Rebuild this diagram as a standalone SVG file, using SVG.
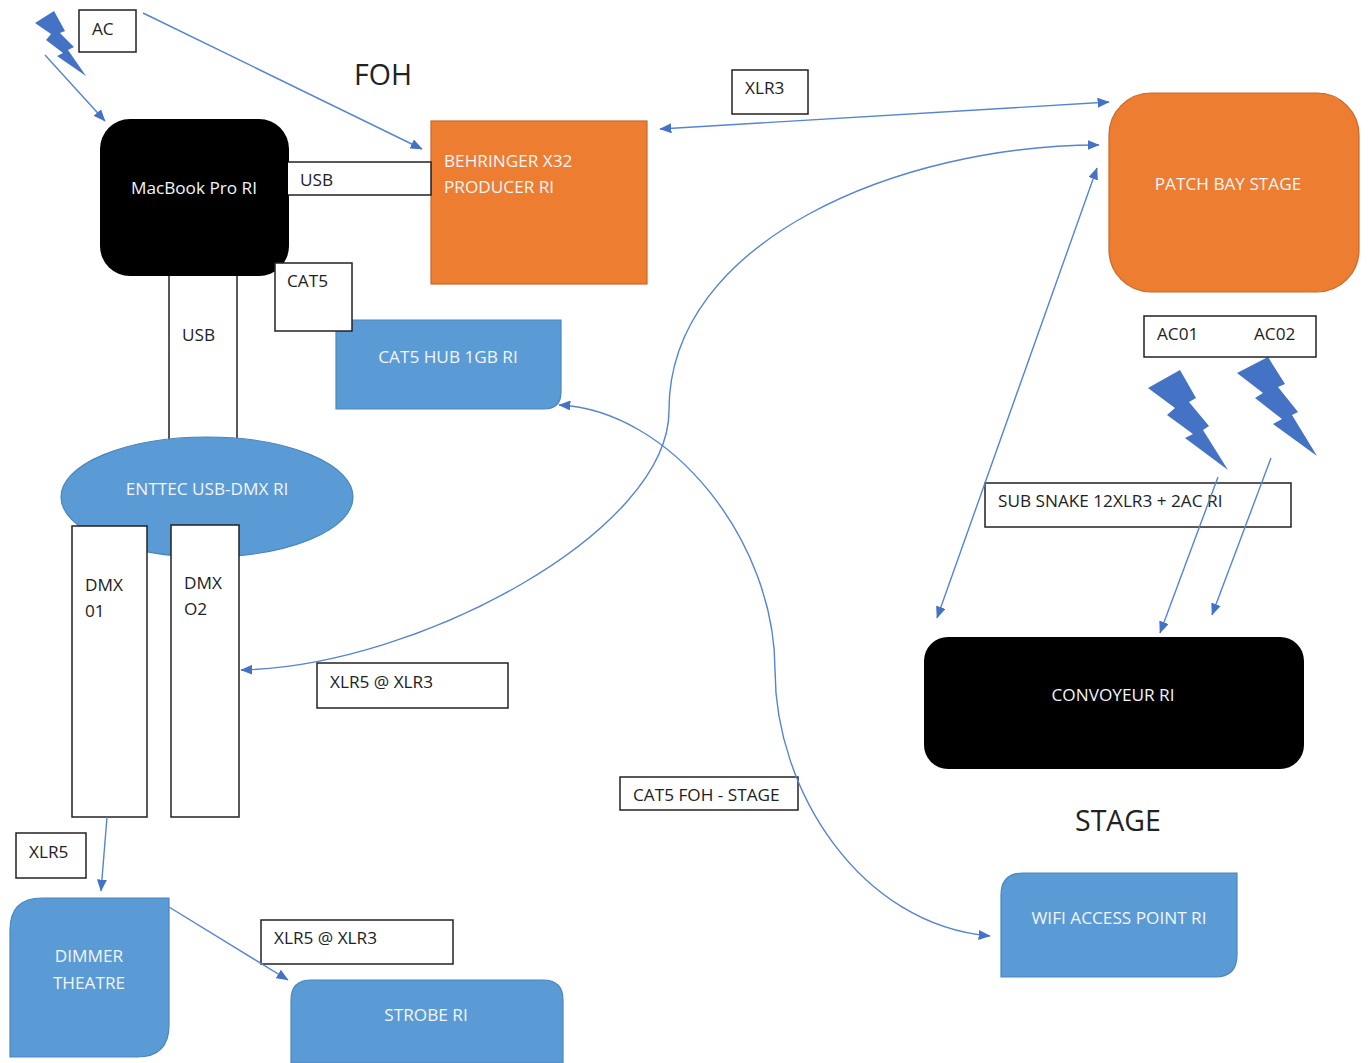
<svg xmlns="http://www.w3.org/2000/svg" width="1370" height="1063" viewBox="0 0 1370 1063">
<style>
text{font-family:"Open Sans","Noto Sans",sans-serif;font-size:17.2px;fill:#222}
.w{fill:#f1f5fa}
.lb{fill:#fff;stroke:#222;stroke-width:1.5}
.bl{fill:#5b9bd5;stroke:#4a86bd;stroke-width:1.2}
.or{fill:#ed7d31;stroke:#c9682a;stroke-width:1.2}
.bk{fill:#000}
.bolt{fill:#4472c4}
.c{fill:none;stroke:#5584d2;stroke-width:1.4}
.big{font-size:28.5px}
</style>
<defs>
<marker id="a" viewBox="0 0 10 10" refX="9.5" refY="5" markerWidth="12" markerHeight="10" markerUnits="userSpaceOnUse" orient="auto-start-reverse" preserveAspectRatio="none"><path d="M0 0L10 5L0 10z" fill="#4472c4"/></marker>
</defs>
<g id="bolts">
<path class="bolt" d="M35 23L54 11L65 31L60 33L74 47L68 50L86 76L57 56L63 53L46 40L51 34z"/>
<path class="bolt" d="M1148 388L1180 370L1196 398L1189 402L1209 426L1203 430L1228 470L1185 438L1193 434L1167 415L1175 408z"/>
<path class="bolt" d="M1237 373L1268 357L1285 384L1278 387L1298 412L1292 415L1317 456L1273 424L1282 419L1255 398L1263 393z"/>
</g>
<g id="usb-left"><rect class="lb" x="169" y="270" width="68" height="175"/><text x="182" y="341">USB</text></g>
<g id="macbook"><rect class="bk" x="100" y="119" width="189" height="157" rx="30"/><text class="w" x="194" y="194" text-anchor="middle">MacBook Pro RI</text></g>
<g id="behringer"><rect class="or" x="431" y="121" width="216" height="163"/><text class="w" x="444" y="167">BEHRINGER X32</text><text class="w" x="444" y="193">PRODUCER RI</text></g>
<g id="usb-top"><path d="M288 162H431V195H288z" fill="#fff"/><path d="M288 162H431V195H288" fill="none" stroke="#222" stroke-width="1.5"/><text x="300" y="186">USB</text></g>
<g id="patch"><rect class="or" x="1109" y="93" width="250" height="199" rx="42"/><text class="w" x="1228" y="190" text-anchor="middle">PATCH BAY STAGE</text></g>
<g id="hub"><path class="bl" d="M336 320H561V392Q561 409 544 409H336z"/><text class="w" x="448" y="363" text-anchor="middle">CAT5 HUB 1GB RI</text></g>
<g id="cat5"><rect class="lb" x="275" y="263" width="77" height="68"/><text x="287" y="287">CAT5</text></g>
<g id="enttec"><ellipse class="bl" cx="207" cy="497" rx="146" ry="60"/><text class="w" x="207" y="495" text-anchor="middle">ENTTEC USB-DMX RI</text></g>
<g id="dmx1"><rect class="lb" x="72" y="526" width="75" height="291"/><text x="85" y="591">DMX</text><text x="85" y="617">01</text></g>
<g id="dmx2"><rect class="lb" x="171" y="525" width="68" height="292"/><text x="184" y="589">DMX</text><text x="184" y="615">O2</text></g>
<g id="ac"><rect class="lb" x="79" y="10" width="57" height="42"/><text x="92" y="35">AC</text></g>
<g id="xlr3"><rect class="lb" x="732" y="70" width="76" height="44"/><text x="745" y="94">XLR3</text></g>
<g id="acs"><rect class="lb" x="1144" y="316" width="172" height="41"/><text x="1157" y="340">AC01</text><text x="1254" y="340">AC02</text></g>
<g id="snake"><rect class="lb" x="985" y="483" width="306" height="44"/><text x="998" y="507">SUB SNAKE 12XLR3 + 2AC RI</text></g>
<g id="convoyeur"><rect class="bk" x="924" y="637" width="380" height="132" rx="24"/><text class="w" x="1113" y="701" text-anchor="middle">CONVOYEUR RI</text></g>
<g id="xlr53a"><rect class="lb" x="317" y="663" width="191" height="45"/><text x="330" y="688">XLR5 @ XLR3</text></g>
<g id="foh-stage"><rect class="lb" x="620" y="777" width="178" height="33"/><text x="633" y="801">CAT5 FOH - STAGE</text></g>
<g id="xlr5"><rect class="lb" x="16" y="833" width="70" height="45"/><text x="29" y="858">XLR5</text></g>
<g id="dimmer"><path class="bl" d="M10 1057V930Q10 898 42 898H169V1025Q169 1057 137 1057z"/><text class="w" x="89" y="962" text-anchor="middle">DIMMER</text><text class="w" x="89" y="989" text-anchor="middle">THEATRE</text></g>
<g id="strobe"><path class="bl" d="M291 1063V1000Q291 980 311 980H543Q563 980 563 1000V1063z"/><text class="w" x="426" y="1021" text-anchor="middle">STROBE RI</text></g>
<g id="xlr53b"><rect class="lb" x="261" y="920" width="192" height="44"/><text x="274" y="944">XLR5 @ XLR3</text></g>
<g id="wifi"><path class="bl" d="M1001 977V895Q1001 873 1023 873H1237V955Q1237 977 1215 977z"/><text class="w" x="1119" y="924" text-anchor="middle">WIFI ACCESS POINT RI</text></g>
<g id="connectors">
<line class="c" x1="45" y1="55" x2="105" y2="121" marker-end="url(#a)"/>
<line class="c" x1="143" y1="13" x2="422" y2="149" marker-end="url(#a)"/>
<line class="c" x1="660" y1="129" x2="1109" y2="102" marker-start="url(#a)" marker-end="url(#a)"/>
<path class="c" d="M241 670C420 666 670 530 669 410C669 240 900 145 1099 145" marker-start="url(#a)" marker-end="url(#a)"/>
<path class="c" d="M559 405C670 410 775 540 775 670C775 790 860 925 990 936" marker-start="url(#a)" marker-end="url(#a)"/>
<line class="c" x1="1097" y1="168" x2="937" y2="618" marker-start="url(#a)" marker-end="url(#a)"/>
<line class="c" x1="1218" y1="477" x2="1160" y2="633" marker-end="url(#a)"/>
<line class="c" x1="1271" y1="458" x2="1212" y2="615" marker-end="url(#a)"/>
<line class="c" x1="107" y1="817" x2="101" y2="891" marker-end="url(#a)"/>
<line class="c" x1="169" y1="907" x2="288" y2="980" marker-end="url(#a)"/>
</g>
<text class="big" x="354" y="85">FOH</text>
<text class="big" x="1075" y="831">STAGE</text>
</svg>
